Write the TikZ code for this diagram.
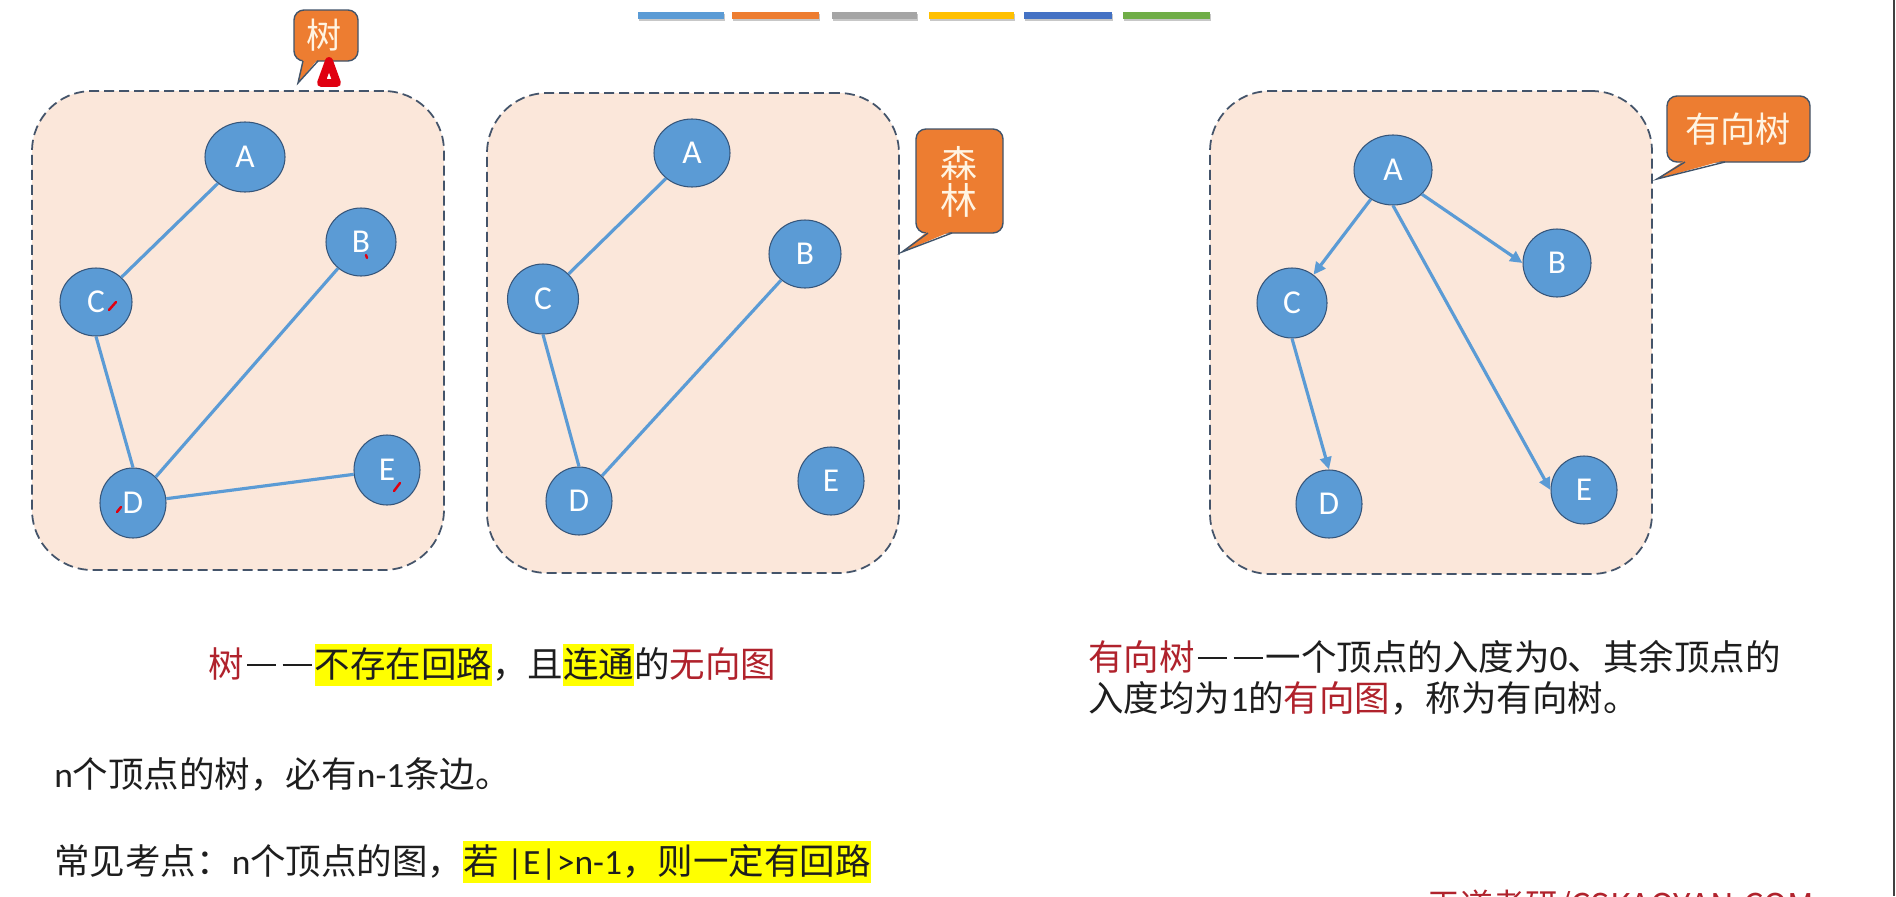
\documentclass[tikz,border=0pt]{standalone}
\usepackage{fontspec}
\setmainfont{Noto Sans CJK SC}
\newfontfamily\letterfont{Carlito}
\usetikzlibrary{shapes.geometric,arrows.meta}
\definecolor{nodefill}{HTML}{5B9BD5}
\definecolor{nodeline}{HTML}{35557A}
\definecolor{edgeblue}{HTML}{5B9BD5}
\definecolor{boxfill}{HTML}{FBE7DA}
\definecolor{boxline}{HTML}{44546A}
\definecolor{callfill}{HTML}{ED7D31}
\definecolor{callline}{HTML}{41546A}
\definecolor{calltext}{HTML}{FFF4E2}
\definecolor{keyred}{RGB}{176,34,44}
\definecolor{hlyellow}{HTML}{FFFF00}
\definecolor{txt}{HTML}{1E1E1E}
\definecolor{penred}{HTML}{E00010}
\definecolor{barA}{HTML}{5B9BD5}
\definecolor{barB}{HTML}{ED7D31}
\definecolor{barC}{HTML}{A5A5A5}
\definecolor{barD}{HTML}{FFC000}
\definecolor{barE}{HTML}{4472C4}
\definecolor{barF}{HTML}{70AD47}
\newcommand\hlbox[1]{{\setlength{\fboxsep}{0pt}\colorbox{hlyellow}{\rule[-5pt]{0pt}{24pt}#1}}}
\newcommand\cjkdash{\makebox[1em]{\rule[0.3em]{0.82em}{1.6pt}}}
\newcommand\lat[1]{{\letterfont #1}}
\tikzset{
  vnode/.style={ellipse, fill=nodefill, draw=nodeline, line width=0.6pt, text=white,
    font=\letterfont\fontsize{19}{19}\selectfont, inner sep=0pt},
  sz/.style 2 args={minimum width=#1*0.02cm, minimum height=#2*0.02cm},
  edge/.style={draw=edgeblue, line width=1.8pt},
  arr/.style={edge, -{Triangle[length=7pt,width=6.5pt]}},
  gbox/.style={rectangle, rounded corners=1.2cm, fill=boxfill, draw=boxline,
    line width=1pt, dash pattern=on 0.2cm off 0.1cm},
  callbox/.style={fill=callfill, draw=callline, line width=0.8pt, rounded corners=0.2cm},
  calltxt/.style={text=calltext, font=\fontsize{20}{21}\selectfont, inner sep=0pt, align=center},
  bodytxt/.style={anchor=base west, inner sep=0pt, text=txt, font=\fontsize{20.2}{24}\selectfont},
  penmark/.style={draw=penred, line width=1.4pt, line cap=round}
}
\begin{document}
\begin{tikzpicture}[x=0.02cm,y=-0.02cm]
\useasboundingbox (0,0) rectangle (1896,896);
\fill[white] (0,0) rectangle (1896,896);
% top colour bars
\foreach \xa/\xb/\c in {638/724/barA,732/819/barB,832/917/barC,929/1014/barD,1024/1112/barE,1123/1210/barF}{
  \fill[black!22] (\xa+1,14) rectangle (\xb+1,21);
  \fill[\c] (\xa,12) rectangle (\xb,19);
}
% boxes
\node[gbox, minimum width=8.24cm, minimum height=9.58cm] (box1) at (238,330.5) {};
\node[gbox, minimum width=8.24cm, minimum height=9.6cm] (box2) at (693,333) {};
\node[gbox, minimum width=8.84cm, minimum height=9.66cm] (box3) at (1431,332.5) {};
% left graph: tree
\node[vnode, sz={80}{70}] (lA) at (245,157) {A};
\node[vnode, sz={70}{68}] (lB) at (361,242) {B};
\node[vnode, sz={72}{68}] (lC) at (96,302) {C};
\node[vnode, sz={66}{70}] (lD) at (133,503) {D};
\node[vnode, sz={66}{70}] (lE) at (387,470) {E};
\draw[edge] (lA) -- (lC);
\draw[edge] (lC.south) -- (lD.north);
\draw[edge] (lD) -- (lB);
\draw[edge] (lD) -- (lE);
% middle graph: forest
\node[vnode, sz={76}{68}] (mA) at (692,153) {A};
\node[vnode, sz={72}{68}] (mB) at (805,254) {B};
\node[vnode, sz={71}{70}] (mC) at (543,299) {C};
\node[vnode, sz={66}{68}] (mD) at (579,501) {D};
\node[vnode, sz={66}{68}] (mE) at (831,481) {E};
\draw[edge] (mA) -- (mC);
\draw[edge] (mC.south) -- (mD.north);
\draw[edge] (mD) -- (mB);
% right graph: directed tree
\node[vnode, sz={78}{70}] (rA) at (1393,170) {A};
\node[vnode, sz={68}{68}] (rB) at (1557,263) {B};
\node[vnode, sz={70}{70}] (rC) at (1292,303) {C};
\node[vnode, sz={66}{68}] (rD) at (1329,504) {D};
\node[vnode, sz={66}{68}] (rE) at (1584,490) {E};
\draw[arr] (rA) -- (rC);
\draw[arr] (rA.-40) -- (rB.west);
\draw[arr] (rA.south) -- (rE.west);
\draw[arr] (rC.south) -- (rD.north);
% callout: tree
\draw[callbox] (294,10) rectangle (358,61);
\fill[callfill] (303,59) -- (318,59) -- (298,83) -- cycle;
\draw[callline, line width=0.8pt, line join=miter] (303,61) -- (298,83) -- (318,61);
\node[calltxt] (c1) at (324,35) {树};
% callout: forest
\draw[callbox] (916,129) rectangle (1003,233);
\fill[callfill] (928,231) -- (952,231) -- (902,252) -- cycle;
\draw[callline, line width=0.8pt] (928,233) -- (902,252) -- (952,233);
\node[calltxt, font=\fontsize{21}{21}\selectfont] (c2) at (959,182) {森\\林};
% callout: directed tree
\draw[callbox] (1667,96) rectangle (1810,162);
\fill[callfill] (1685,160) -- (1725,160) -- (1657,179) -- cycle;
\draw[callline, line width=0.8pt] (1685,162) -- (1657,179) -- (1725,162);
\node[calltxt] (c3) at (1738,129) {有向树};
% pen marks
\filldraw[fill=white, draw=penred, line width=4.5pt, line join=round] (329,61) -- (321,83) -- (337,83) -- cycle;
\draw[penmark] (109,310) -- (116,302);
\draw[penmark] (117,512) -- (121,507);
\draw[penmark] (394,491) -- (400,483);
\draw[penmark] (366,255) -- (367,258);
% texts
\node[bodytxt] (def1) at (208,677) {\textcolor{keyred}{树}\cjkdash\cjkdash\hlbox{不存在回路}，且\hlbox{连通}的\textcolor{keyred}{无向图}};
\node[bodytxt] (fact1) at (54,787) {\lat{n}个顶点的树，必有\lat{n-1}条边。};
\node[bodytxt] (fact2) at (54,874) {常见考点：\lat{n}个顶点的图，\hlbox{若\lat{ |E|>n-1}，则一定有回路}};
\node[bodytxt] (def2a) at (1088,670) {\textcolor{keyred}{有向树}\cjkdash\cjkdash 一个顶点的入度为\lat{0}、其余顶点的};
\node[bodytxt] (def2b) at (1088,711) {入度均为\lat{1}的\textcolor{keyred}{有向图}，称为有向树。};
\node[anchor=north west, inner sep=0pt, text=keyred, font=\fontsize{18.6}{20}\selectfont] (wm) at (1427,890) {王道考研/CSKAOYAN.COM};
% right edge line
\draw[line width=1.1pt, black!75] (1894,0) -- (1894,896);
\end{tikzpicture}
\end{document}
